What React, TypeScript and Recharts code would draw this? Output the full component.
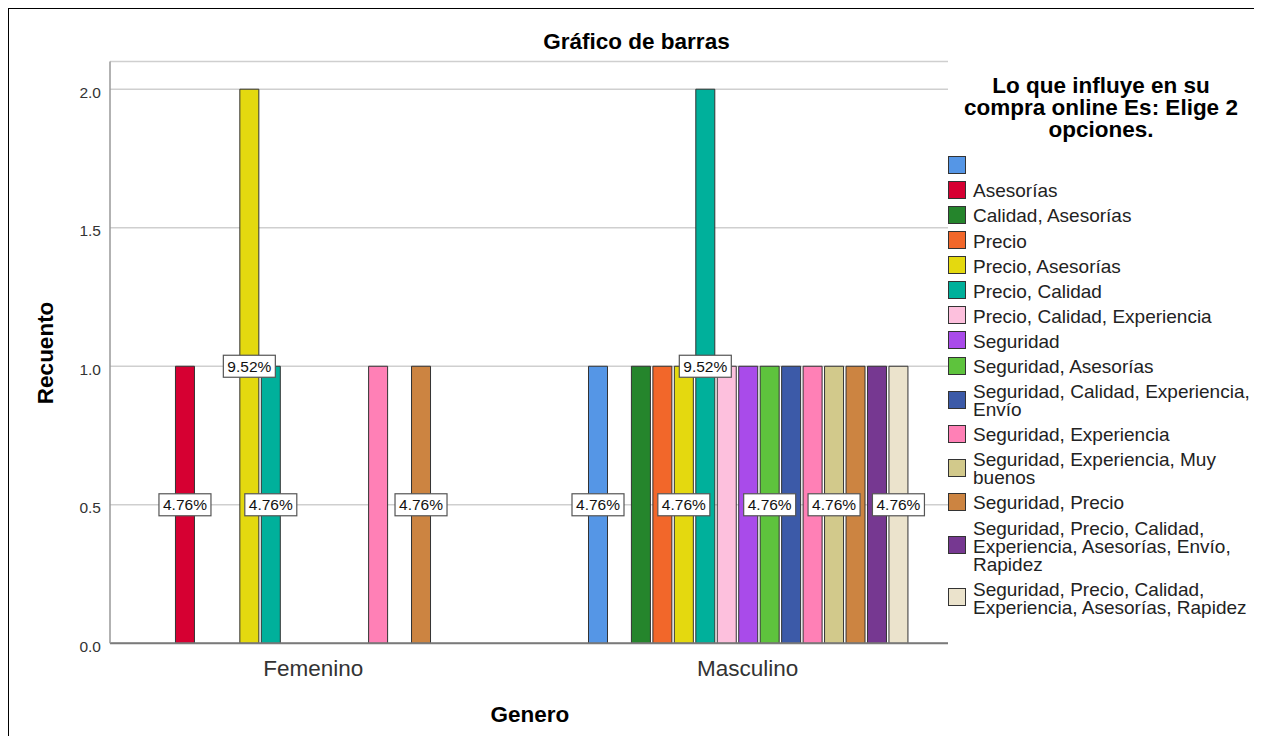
import React from "react"
import { BarChart, Bar, XAxis, YAxis, CartesianGrid, LabelList } from "recharts"

const generos = ["Femenino", "Masculino"]

const opciones = [
  "",
  "Asesorías",
  "Calidad, Asesorías",
  "Precio",
  "Precio, Asesorías",
  "Precio, Calidad",
  "Precio, Calidad, Experiencia",
  "Seguridad",
  "Seguridad, Asesorías",
  "Seguridad, Calidad, Experiencia, Envío",
  "Seguridad, Experiencia",
  "Seguridad, Experiencia, Muy buenos",
  "Seguridad, Precio",
  "Seguridad, Precio, Calidad, Experiencia, Asesorías, Envío, Rapidez",
  "Seguridad, Precio, Calidad, Experiencia, Asesorías, Rapidez",
]

const femenino = [0, 1, 0, 0, 2, 1, 0, 0, 0, 0, 1, 0, 1, 0, 0]
const masculino = [1, 0, 1, 1, 1, 2, 1, 1, 1, 1, 1, 1, 1, 1, 1]

const colores = [
  "#5596e6", "#d60032", "#25852c", "#f2672a", "#e4d90f",
  "#00b09b", "#fdc0dd", "#a94bea", "#5ec33d", "#3c5aa8",
  "#ff80b6", "#d2c98b", "#cc8441", "#763891", "#ebe3cc",
]

// SPSS only kept some of the percentage labels
const etiquetasFemenino = [1, 4, 5, 12]
const etiquetasMasculino = [0, 4, 5, 8, 11, 14]

const yTicks = [0, 0.5, 1, 1.5, 2]

const total = [...femenino, ...masculino].reduce((a, b) => a + b, 0)

const data = generos.map((g, gi) => {
  const counts = gi === 0 ? femenino : masculino
  const row: Record<string, string | number | null> = { genero: g }
  opciones.forEach((_, i) => {
    row["s" + i] = counts[i] > 0 ? counts[i] : null
  })
  return row
})

const FONT = "'Liberation Sans', Arial, sans-serif"
const W = 1246
const H = 728
const margin = { top: 53.5, right: 306, bottom: 62.7, left: 42 }

function XTick(props: any) {
  const { x, y, payload } = props
  return (
    <text x={x} y={y + 32.7} textAnchor="middle" fontSize={22.5} fill="#333" fontFamily={FONT}>
      {payload.value}
    </text>
  )
}

function YTick(props: any) {
  const { x, y, payload } = props
  return (
    <text x={x - 9} y={y + 8.3} textAnchor="end" fontSize={15.5} fill="#333" fontFamily={FONT}>
      {Number(payload.value).toFixed(1)}
    </text>
  )
}

// value carries the category so the label knows which group it belongs to
const makeAccessor = (serie: number) => (entry: any) => {
  const raw = Array.isArray(entry.value) ? entry.value[1] : entry.value
  const v = entry.payload?.["s" + serie] ?? raw
  return `${entry.payload?.genero ?? ""}|${v ?? ""}`
}

const makeLabel = (serie: number) => (props: any) => {
  const vb = props.viewBox ?? props
  const [genero, raw] = String(props.value ?? "").split("|")
  const value = raw === "" || raw == null ? null : Number(raw)
  const cx = vb.x + vb.width / 2
  const cy = vb.y + vb.height / 2
  const cat = genero ? generos.indexOf(genero) : cx < margin.left + 60 + 419 ? 0 : 1
  const shown = cat === 0 ? etiquetasFemenino : etiquetasMasculino
  if (value == null || !shown.includes(serie)) return null
  const text = ((value / total) * 100).toFixed(2) + "%"
  return (
    <g>
      <rect x={cx - 26} y={cy - 11} width={52} height={22} fill="#fff" stroke="#555" strokeWidth={1.2} />
      <text x={cx} y={cy + 5.5} textAnchor="middle" fontSize={15.5} fill="#111" fontFamily={FONT}>
        {text}
      </text>
    </g>
  )
}

export default function App() {
  const xAxisProps = {
    dataKey: "genero",
    height: 30,
    padding: { left: -14, right: -17 },
    tickSize: 0,
    tickMargin: 0,
  }
  const yAxisProps = {
    width: 60,
    domain: [0, 2.1] as [number, number],
    ticks: yTicks,
    tickSize: 0,
    tickMargin: 0,
    allowDataOverflow: true,
  }
  return (
    <div style={{ position: "relative", width: W, height: H, fontFamily: FONT }}>
      <div style={{ position: "absolute", left: 0, top: 0, width: W, height: H, borderLeft: "1px solid #000", borderTop: "1px solid #000", boxSizing: "border-box" }} />
      <div style={{ position: "absolute", left: 0, top: 0 }}>
        <BarChart width={W} height={H} data={data} margin={margin} barSize={19} barGap={2.46}>
          <CartesianGrid vertical={false} stroke="#cfcfcf" strokeWidth={1.5} />
          <XAxis {...xAxisProps} tick={<XTick />} axisLine={{ stroke: "#7a7a7a", strokeWidth: 2 }} tickLine={false} />
          <YAxis {...yAxisProps} tick={<YTick />} axisLine={{ stroke: "#999", strokeWidth: 1.5 }} tickLine={false} />
          {opciones.map((name, i) => (
            <Bar key={i} dataKey={"s" + i} name={name} fill={colores[i]} stroke="#333" strokeWidth={1} isAnimationActive={false} />
          ))}
        </BarChart>
      </div>
      <div style={{ position: "absolute", left: 0, top: 0, pointerEvents: "none" }}>
        <BarChart width={W} height={H} data={data} margin={margin} barSize={19} barGap={2.46}>
          <XAxis {...xAxisProps} tick={false} axisLine={false} tickLine={false} />
          <YAxis {...yAxisProps} tick={false} axisLine={false} tickLine={false} />
          {opciones.map((name, i) => (
            <Bar key={i} dataKey={"s" + i} name={name} fill="transparent" stroke="none" isAnimationActive={false}>
              <LabelList valueAccessor={makeAccessor(i)} content={makeLabel(i)} />
            </Bar>
          ))}
        </BarChart>
      </div>
      <svg width={W} height={H} style={{ position: "absolute", left: 0, top: 0, pointerEvents: "none" }}>
        <text x={628.5} y={41.3} textAnchor="middle" fontSize={22.5} fontWeight="bold" fill="#000" fontFamily={FONT}>
          Gráfico de barras
        </text>
        <text transform="translate(45.3, 344.9) rotate(-90)" textAnchor="middle" fontSize={22.5} fontWeight="bold" fill="#000" fontFamily={FONT}>
          Recuento
        </text>
        <text x={521.9} y={713.7} textAnchor="middle" fontSize={22.5} fontWeight="bold" fill="#000" fontFamily={FONT}>
          Genero
        </text>
      </svg>
      <div style={{ position: "absolute", left: 943, top: 66.9, width: 300, textAlign: "center", fontSize: 22.5, fontWeight: "bold", lineHeight: "22px", color: "#000" }}>
        Lo que influye en su compra online Es: Elige 2 opciones.
      </div>
      <div style={{ position: "absolute", left: 940, top: 147.8 }}>
        {opciones.map((name, i) => (
          <div key={i} style={{ display: "flex", alignItems: "center", marginBottom: 7.1 }}>
            <div style={{ width: 16, height: 16, border: "1px solid #333", background: colores[i], flex: "none" }} />
            <div style={{ marginLeft: 7, width: 285, fontSize: 19, lineHeight: "18px", color: "#222", position: "relative", top: 1.5 }}>
              {name || "\u00a0"}
            </div>
          </div>
        ))}
      </div>
    </div>
  )
}
